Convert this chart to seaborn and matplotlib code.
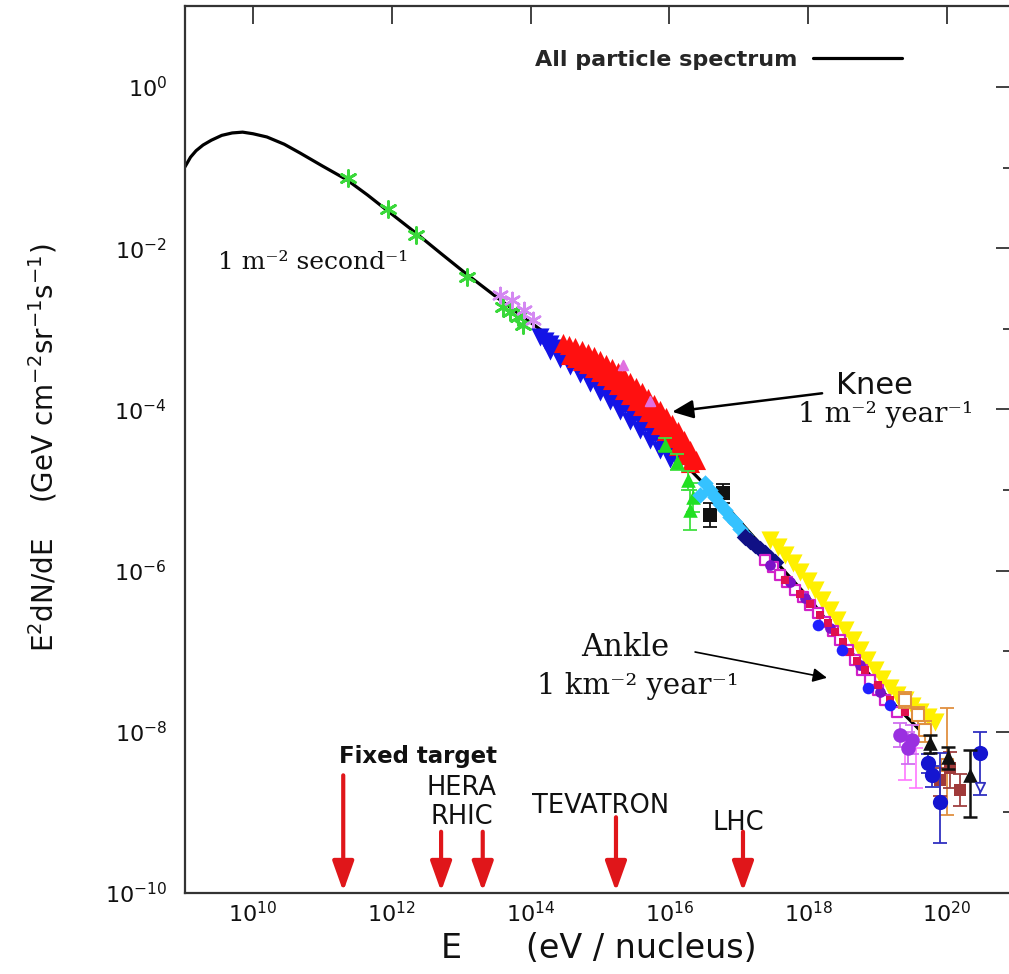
import numpy as np
import matplotlib
matplotlib.use("Agg")
import matplotlib.pyplot as plt
import seaborn as sns
from matplotlib.ticker import FixedLocator, NullLocator, NullFormatter, FixedFormatter

# ---------------- data: log10(E / eV) and log10(E^2 dN/dE) ----------------
curve_logE = [9.02, 9.10, 9.18, 9.28, 9.40, 9.55, 9.70, 9.85, 10.00, 10.20, 10.45, 10.68,
              11.00, 11.35, 11.65, 11.93, 12.33, 12.70, 13.09, 13.56, 14.14, 15.00, 15.72,
              16.30, 16.87, 17.45, 18.03, 18.60, 19.18, 19.61]
curve_logF = [-0.99, -0.87, -0.79, -0.72, -0.66, -0.60, -0.57, -0.56, -0.58, -0.62, -0.71, -0.82,
              -0.98, -1.15, -1.34, -1.53, -1.80, -2.06, -2.33, -2.64, -3.01, -3.57, -4.13,
              -4.75, -5.25, -5.81, -6.36, -6.99, -7.61, -7.98]

green_star_logE = [11.37, 11.95, 12.35, 13.08, 13.60, 13.70, 13.82, 13.89]
green_star_logF = [-1.13, -1.51, -1.83, -2.36, -2.73, -2.79, -2.85, -2.95]

violet_star_logE = [13.56, 13.73, 13.90, 14.03]
violet_star_logF = [-2.58, -2.64, -2.77, -2.89]

blue_logE = [14.14, 14.21, 14.28, 14.35, 14.42, 14.50, 14.57, 14.64, 14.71, 14.78, 14.86, 14.93,
             15.00, 15.07, 15.14, 15.22, 15.29, 15.36, 15.43, 15.50, 15.58, 15.65, 15.72, 15.79,
             15.86, 15.94, 16.01, 16.08, 16.15,
             14.28, 14.42, 14.57, 14.71, 14.86, 15.00, 15.14, 15.29, 15.43, 15.58, 15.72, 15.86,
             16.01]
blue_logF = [-3.10, -3.15, -3.19, -3.24, -3.29, -3.33, -3.37, -3.42, -3.47, -3.52, -3.57, -3.62,
             -3.68, -3.73, -3.78, -3.84, -3.90, -3.95, -4.01, -4.06, -4.12, -4.18, -4.24, -4.30,
             -4.37, -4.43, -4.49, -4.56, -4.63,
             -3.27, -3.38, -3.46, -3.56, -3.67, -3.78, -3.90, -4.02, -4.14, -4.26, -4.38, -4.50,
             -4.62]

red_logE = [14.47, 14.55, 14.64, 14.74, 14.83, 14.91, 15.00, 15.09, 15.17, 15.26, 15.35, 15.43,
            15.52, 15.61, 15.69, 15.78, 15.86, 15.95, 16.04, 16.12, 16.21, 16.30, 16.38,
            14.57, 14.66, 14.74, 14.83, 14.91, 15.00, 15.09, 15.17, 15.26, 15.35, 15.43, 15.52,
            15.61, 15.69, 15.78, 15.86, 15.95, 16.04, 16.12, 16.21, 16.30]
red_logF = [-3.18, -3.20, -3.23, -3.26, -3.30, -3.34, -3.39, -3.44, -3.49, -3.54, -3.60, -3.66,
            -3.72, -3.79, -3.86, -3.93, -4.01, -4.09, -4.18, -4.27, -4.38, -4.50, -4.63,
            -3.33, -3.36, -3.40, -3.44, -3.49, -3.54, -3.59, -3.64, -3.70, -3.76, -3.82, -3.89,
            -3.96, -4.03, -4.11, -4.19, -4.27, -4.36, -4.45, -4.56, -4.67]

pink_open_logE = [15.33, 15.72]
pink_open_logF = [-3.45, -3.90]

green_tri_logE = [15.94, 16.11, 16.27, 16.34, 16.30]
green_tri_logF = [-4.44, -4.65, -4.88, -5.09, -5.25]
green_tri_err = [0.08, 0.10, 0.12, 0.18, 0.25]

black_sq_logE = [16.77, 16.59]
black_sq_logF = [-5.04, -5.31]
black_sq_err = [0.12, 0.15]

cyan_logE = [16.44, 16.51, 16.59, 16.66, 16.73, 16.80, 16.88, 16.95, 17.02, 17.09]
cyan_logF = [-5.06, -4.91, -5.00, -5.09, -5.17, -5.25, -5.33, -5.40, -5.48, -5.56]

navy_logE = [17.09, 17.16, 17.23, 17.30, 17.38, 17.45, 17.52]
navy_logF = [-5.58, -5.63, -5.68, -5.73, -5.78, -5.84, -5.89]

yellow_logE = [17.45, 17.56, 17.67, 17.78, 17.88, 17.99, 18.10, 18.20, 18.31, 18.42, 18.53,
               18.64, 18.75, 18.85, 18.96, 19.07, 19.18, 19.28, 19.39, 19.50, 19.61, 19.72, 19.83]
yellow_logF = [-5.62, -5.71, -5.81, -5.91, -6.02, -6.13, -6.24, -6.36, -6.49, -6.61, -6.74,
               -6.86, -6.99, -7.11, -7.23, -7.35, -7.46, -7.54, -7.61, -7.68, -7.75, -7.82, -7.88]

magenta_logE = [17.38, 17.49, 17.59, 17.70, 17.81, 17.92, 18.03, 18.14, 18.24, 18.35, 18.46,
                18.57, 18.67, 18.78, 18.89, 19.00, 19.11, 19.28]
magenta_logF = [-5.87, -5.96, -6.05, -6.14, -6.24, -6.33, -6.43, -6.53, -6.64, -6.75, -6.86,
                -6.98, -7.11, -7.23, -7.36, -7.48, -7.61, -7.75]

purple_logE = [17.45, 17.74, 17.95, 18.31, 18.75, 19.03]
purple_logF = [-5.93, -6.14, -6.34, -6.71, -7.17, -7.51]

crimson_logE = [17.67, 17.88, 18.03, 18.17, 18.28, 18.39, 18.50, 18.60, 18.71, 18.82, 19.00,
                19.18, 19.39]
crimson_logF = [-6.12, -6.29, -6.42, -6.55, -6.65, -6.76, -6.88, -7.01, -7.12, -7.23, -7.42,
                -7.61, -7.75]

bluecirc_logE = [18.14, 18.49, 18.86, 19.18]
bluecirc_logF = [-6.67, -6.99, -7.46, -7.67]

he_blue_logE = [19.73, 19.78, 19.90, 20.48]
he_blue_logF = [-8.39, -8.54, -8.87, -8.26]
he_blue_errlo = [0.12, 0.15, 0.51, 0.52]
he_blue_errhi = [0.12, 0.12, 0.61, 0.26]

he_black_logE = [19.76, 20.01, 20.33]
he_black_logF = [-8.14, -8.31, -8.54]
he_black_errlo = [0.12, 0.15, 0.52]
he_black_errhi = [0.10, 0.12, 0.31]

he_purple_logE = [19.32, 19.44, 19.50]
he_purple_logF = [-8.04, -8.20, -8.10]
he_purple_err = [0.15, 0.20, 0.18]

he_orange_logE = [19.39, 19.58, 19.68, 20.00]
he_orange_logF = [-7.61, -7.79, -7.98, -8.41]
he_orange_errlo = [0.10, 0.12, 0.15, 0.62]
he_orange_errhi = [0.10, 0.10, 0.12, 0.71]

he_maroon_logE = [19.90, 20.04, 20.19]
he_maroon_logF = [-8.60, -8.45, -8.72]
he_maroon_errlo = [0.20, 0.25, 0.20]
he_maroon_errhi = [0.15, 0.20, 0.20]

he_pink_logE = [19.39, 19.55]
he_pink_logF = [-8.35, -8.45]

he_limit_logE = [20.48]
he_limit_logF = [-8.68]

# accelerators
acc_names = ["Fixed target", "HERA", "RHIC", "TEVATRON", "LHC"]
acc_logE = [11.30, 12.71, 13.31, 15.23, 17.06]
acc_top_logF = [-8.54, -9.24, -9.24, -9.06, -9.24]
acc_label_logE = [12.38, 13.01, 13.01, 15.01, 16.99]
acc_label_logF = [-8.31, -8.70, -9.06, -8.92, -9.13]

x_ticks_exp = [10, 12, 14, 16, 18, 20]
y_ticks_exp = [0, -2, -4, -6, -8, -10]
y_minor_exp = [-1, -3, -5, -7, -9]


def p(a):
    return 10.0 ** np.asarray(a, dtype=float)


# ---------------- figure ----------------
sns.set_theme(style="white")
plt.rcParams["font.family"] = ["DejaVu Sans"]

W, H = 1009, 974
fig = plt.figure(figsize=(W / 100, H / 100), dpi=100)
ax = fig.add_axes([185 / W, 81 / H, 829 / W, 887 / H])
ax.set_xscale("log")
ax.set_yscale("log")
ax.set_xlim(10 ** 9.02, 10 ** 20.965)
ax.set_ylim(1e-10, 10 ** 1.005)

# all particle spectrum
sns.lineplot(x=p(curve_logE), y=p(curve_logF), color="black", lw=2.3, sort=False,
             estimator=None, ax=ax, zorder=2, legend=False)
curve_line = ax.lines[-1]


def scat(lx, ly, color, marker, s, zorder=3, lw=0, ec=None):
    sns.scatterplot(x=p(lx), y=p(ly), color=color, marker=marker, s=s, ax=ax, zorder=zorder,
                    legend=False, linewidth=lw, edgecolor=color if ec is None else ec)


def ebar(lx, ly, lo, hi, color, lw=1.3, cap=5, zorder=3):
    y = p(ly)
    ylo = y - p(np.asarray(ly) - np.asarray(lo))
    yhi = p(np.asarray(ly) + np.asarray(hi)) - y
    ax.errorbar(p(lx), y, yerr=[ylo, yhi], fmt="none", ecolor=color, elinewidth=lw,
                capsize=cap, capthick=lw, zorder=zorder)


scat(green_star_logE, green_star_logF, "#3ad83a", (6, 2, 0), 130, lw=2.0)
scat(violet_star_logE, violet_star_logF, "#d488f2", (6, 2, 0), 120, lw=1.8)

scat(blue_logE, blue_logF, "#1414e6", "v", 170)
scat(red_logE, red_logF, "#ff1010", "^", 190)
scat(pink_open_logE, pink_open_logF, "#e070e0", "^", 50, lw=1.2)

ebar(green_tri_logE, green_tri_logF, green_tri_err, green_tri_err, "#40e040")
scat(green_tri_logE, green_tri_logF, "#22e022", "^", 110)
ebar(black_sq_logE, black_sq_logF, black_sq_err, black_sq_err, "#111111")
scat(black_sq_logE, black_sq_logF, "#111111", "s", 90)

scat(cyan_logE, cyan_logF, "#35c2ff", "D", 70)
scat(navy_logE, navy_logF, "#101085", "D", 80)

scat(yellow_logE, yellow_logF, "#fff000", "v", 170)
scat(magenta_logE, magenta_logF, "white", "s", 55, lw=1.6, ec="#d020c8")
scat(purple_logE, purple_logF, "#7a12c8", "o", 60)
scat(crimson_logE, crimson_logF, "#e01050", "s", 40)
scat(bluecirc_logE, bluecirc_logF, "#2020ff", "o", 70)

# highest energies
ebar(he_pink_logE, he_pink_logF, [0.25, 0.25], [0.25, 0.25], "#ff77ff", lw=1.2)
ebar(he_orange_logE, he_orange_logF, he_orange_errlo, he_orange_errhi, "#e09040")
scat(he_orange_logE, he_orange_logF, "white", "s", 70, lw=1.5, ec="#e09040")
ebar(he_purple_logE, he_purple_logF, he_purple_err, he_purple_err, "#d070f0")
scat(he_purple_logE, he_purple_logF, "#9a30e0", "o", 110)
ebar(he_maroon_logE, he_maroon_logF, he_maroon_errlo, he_maroon_errhi, "#a04040")
scat(he_maroon_logE, he_maroon_logF, "#a03a3a", "s", 70)
ebar(he_blue_logE, he_blue_logF, he_blue_errlo, he_blue_errhi, "#3030c0")
scat(he_blue_logE, he_blue_logF, "#1515d0", "o", 120)
ebar(he_black_logE, he_black_logF, he_black_errlo, he_black_errhi, "#111111", lw=1.8)
scat(he_black_logE, he_black_logF, "#111111", "^", 110)
scat(he_limit_logE, he_limit_logF, "white", "v", 45, lw=1.3, ec="#3030c0")

# accelerator arrows
for le, lt in zip(acc_logE, acc_top_logF):
    ax.annotate("", xy=(10 ** le, 10 ** -9.98), xytext=(10 ** le, 10 ** lt),
                arrowprops=dict(arrowstyle="-|>,head_length=0.7,head_width=0.25",
                                color="#e0161a", lw=3.0, mutation_scale=26,
                                shrinkA=0, shrinkB=0), zorder=4)

for name, le, lf in zip(acc_names, acc_label_logE, acc_label_logF):
    bold = name == "Fixed target"
    ax.text(10 ** le, 10 ** lf, name, ha="center", va="center",
            fontsize=16.5 if bold else 18.5,
            fontweight="bold" if bold else "normal", color="#111111")

# annotations
serif = ["DejaVu Serif", "DejaVu Sans"]
ax.text(10 ** 9.50, 10 ** -2.18, "1 m\u207b\u00b2 second\u207b\u00b9", family=serif,
        fontsize=18, ha="left", va="center", color="#111111")
ax.text(10 ** 18.96, 10 ** -3.70, "Knee", fontsize=22, ha="center", va="center",
        color="#111111")
ax.text(10 ** 19.12, 10 ** -4.06, "1 m\u207b\u00b2 year\u207b\u00b9", family=serif,
        fontsize=20, ha="center", va="center", color="#111111")
ax.annotate("", xy=(10 ** 16.04, 10 ** -4.03), xytext=(10 ** 18.20, 10 ** -3.80),
            arrowprops=dict(arrowstyle="-|>,head_length=0.8,head_width=0.35", color="black",
                            lw=1.8, mutation_scale=16, shrinkA=0, shrinkB=0), zorder=5)
ax.text(10 ** 15.36, 10 ** -6.95, "Ankle", family=serif, fontsize=22, ha="center",
        va="center", color="#111111")
ax.text(10 ** 15.55, 10 ** -7.43, "1 km\u207b\u00b2 year\u207b\u00b9", family=serif,
        fontsize=21, ha="center", va="center", color="#111111")
ax.annotate("", xy=(10 ** 18.27, 10 ** -7.33), xytext=(10 ** 16.37, 10 ** -7.01),
            arrowprops=dict(arrowstyle="-|>,head_length=0.6,head_width=0.3", color="black",
                            lw=1.2, mutation_scale=14, shrinkA=0, shrinkB=0), zorder=5)

# legend
ax.legend(handles=[curve_line], labels=["All particle spectrum"], loc="center right",
          bbox_to_anchor=(902 / W, 1 - 60 / H), bbox_transform=fig.transFigure,
          frameon=False, markerfirst=False, handlelength=4.0, handletextpad=0.7,
          borderaxespad=0, borderpad=0, prop=dict(weight="bold", size=16))

# ticks
ax.xaxis.set_major_locator(FixedLocator([10.0 ** e for e in x_ticks_exp]))
ax.xaxis.set_major_formatter(FixedFormatter([r"$10^{%d}$" % e for e in x_ticks_exp]))
ax.xaxis.set_minor_locator(NullLocator())
ax.yaxis.set_major_locator(FixedLocator([10.0 ** e for e in y_ticks_exp]))
ax.yaxis.set_major_formatter(FixedFormatter([r"$10^{%d}$" % e for e in y_ticks_exp]))
ax.yaxis.set_minor_locator(FixedLocator([10.0 ** e for e in y_minor_exp]))
ax.yaxis.set_minor_formatter(NullFormatter())

ax.tick_params(which="both", direction="in", top=True, right=True, color="#333333",
               width=1.3, labelsize=16, labelcolor="#111111")
ax.tick_params(which="major", length=13)
ax.tick_params(which="minor", length=8)
ax.tick_params(axis="x", pad=6)
ax.tick_params(axis="y", pad=13)

for s in ax.spines.values():
    s.set_color("#333333")
    s.set_linewidth(1.6)
ax.spines["right"].set_visible(False)

ax.set_xlabel("E      (eV / nucleus)", fontsize=24, va="center", color="#111111")
ax.xaxis.set_label_coords(599 / W, 1 - 948 / H, transform=fig.transFigure)
ax.set_ylabel(r"E$^2$dN/dE    (GeV cm$^{-2}$sr$^{-1}$s$^{-1}$)", fontsize=20, va="center",
              color="#111111")
ax.yaxis.set_label_coords(43 / W, 1 - 448 / H, transform=fig.transFigure)

fig.savefig("out.png", dpi=100)
